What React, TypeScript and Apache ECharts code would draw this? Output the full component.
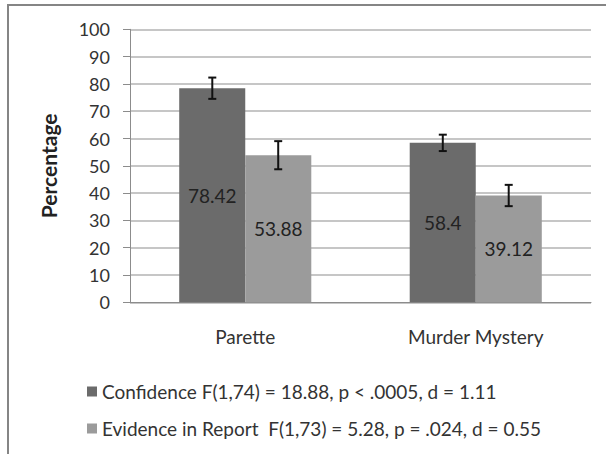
import React, { useEffect, useRef } from "react";
import * as echarts from "echarts";

const categories = ["Parette", "Murder Mystery"];
const confidence = [78.42, 58.4];
const evidence = [53.88, 39.12];
const confidenceErr = [3.9, 3.0];
const evidenceErr = [5.15, 3.9];
const seriesNames = [
  "Confidence F(1,74) = 18.88, p < .0005, d = 1.11",
  "Evidence in Report  F(1,73) = 5.28, p = .024, d = 0.55",
];
const yTicks = [0, 100, 10];

const FONT = "Lato, 'Open Sans', sans-serif";

export default function App() {
  const ref = useRef<HTMLDivElement>(null);
  useEffect(() => {
    document.body.style.margin = "0";
    const chart = echarts.init(ref.current!, null, { renderer: "svg" });
    const errData: any[] = [];
    confidence.forEach((v, i) => errData.push([i, v - confidenceErr[i], v + confidenceErr[i], -1]));
    evidence.forEach((v, i) => errData.push([i, v - evidenceErr[i], v + evidenceErr[i], 1]));
    chart.setOption({
      animation: false,
      backgroundColor: "#ffffff",
      textStyle: { fontFamily: FONT },
      graphic: [
        {
          type: "rect",
          shape: { x: 8, y: 5, width: 620, height: 470 },
          style: { fill: "none", stroke: "#858585", lineWidth: 2 },
          silent: true,
          z: -10,
        },
      ],
      grid: { left: 130, right: 15, top: 29.3, bottom: 151.7 },
      legend: {
        orient: "vertical",
        left: 82,
        top: 377,
        itemGap: 18,
        itemWidth: 10,
        itemHeight: 10,
        icon: "rect",
        data: seriesNames,
        textStyle: { fontFamily: FONT, fontSize: 19, color: "#333" },
      },
      xAxis: {
        type: "category",
        data: categories,
        axisLine: { lineStyle: { color: "#8c8c8c", width: 1 } },
        axisTick: { length: 6, lineStyle: { color: "#8c8c8c" } },
        axisLabel: { fontFamily: FONT, fontSize: 19, color: "#333", margin: 25 },
      },
      yAxis: {
        type: "value",
        min: yTicks[0],
        max: yTicks[1],
        interval: yTicks[2],
        name: "Percentage",
        nameLocation: "middle",
        nameGap: 71,
        nameTextStyle: { fontFamily: FONT, fontSize: 21, fontWeight: "bold", color: "#222" },
        axisLine: { show: true, lineStyle: { color: "#8c8c8c" } },
        axisTick: { show: true, length: 7, lineStyle: { color: "#8c8c8c" } },
        axisLabel: { fontFamily: FONT, fontSize: 18, color: "#333", margin: 20 },
        splitLine: { lineStyle: { color: "#b3b3b3", width: 1.5 } },
      },
      series: [
        {
          name: seriesNames[0],
          type: "bar",
          data: confidence,
          barGap: "0%",
          barCategoryGap: "42.7%",
          itemStyle: { color: "#6b6b6b" },
          label: { show: true, position: "inside", fontFamily: FONT, fontSize: 19, color: "#222" },
        },
        {
          name: seriesNames[1],
          type: "bar",
          data: evidence,
          barGap: "0%",
          barCategoryGap: "42.7%",
          itemStyle: { color: "#9b9b9b" },
          label: { show: true, position: "inside", fontFamily: FONT, fontSize: 19, color: "#222" },
        },
        {
          type: "custom",
          data: errData,
          z: 10,
          renderItem: (params: any, api: any) => {
            const idx = api.value(0);
            const band = api.size([1, 0])[0];
            const cx = api.coord([idx, 0])[0] + api.value(3) * band * 0.143;
            const yl = api.coord([idx, api.value(1)])[1];
            const yh = api.coord([idx, api.value(2)])[1];
            const cap = 4;
            const st = { stroke: "#111", lineWidth: 2 };
            return {
              type: "group",
              children: [
                { type: "line", shape: { x1: cx, y1: yl, x2: cx, y2: yh }, style: st },
                { type: "line", shape: { x1: cx - cap, y1: yl, x2: cx + cap, y2: yl }, style: st },
                { type: "line", shape: { x1: cx - cap, y1: yh, x2: cx + cap, y2: yh }, style: st },
              ],
            };
          },
        },
      ],
    });
    return () => chart.dispose();
  }, []);
  return <div ref={ref} style={{ width: 606, height: 454 }} />;
}
